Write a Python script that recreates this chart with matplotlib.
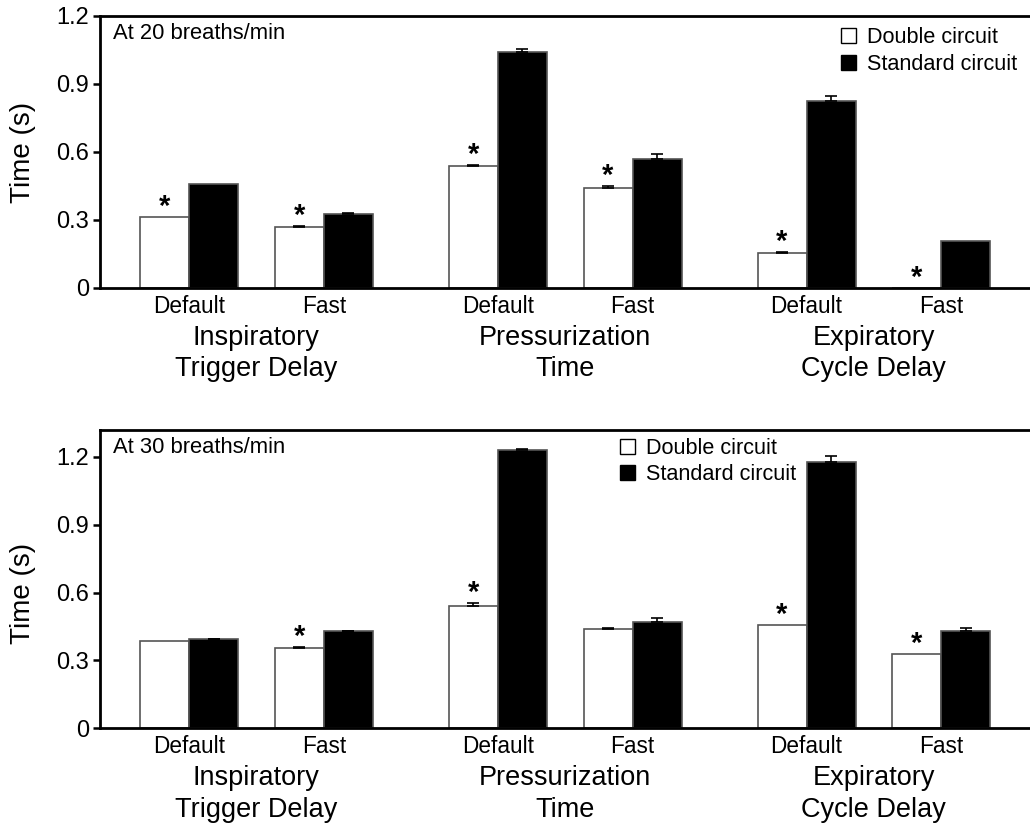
import numpy as np
import matplotlib
matplotlib.use('Agg')
import matplotlib.pyplot as plt
from matplotlib.patches import Patch

plt.rcParams['font.family'] = ['Liberation Sans', 'DejaVu Sans']

settings = ['Default', 'Fast']
groups = ['Inspiratory\nTrigger Delay', 'Pressurization\nTime', 'Expiratory\nCycle Delay']

# 20 breaths/min
double_20 = [0.314, 0.269, 0.538, 0.441, 0.153, 0.0]
double_20_err = [0, 0.003, 0.003, 0.009, 0.005, 0]
standard_20 = [0.458, 0.327, 1.040, 0.569, 0.825, 0.206]
standard_20_err = [0, 0.003, 0.013, 0.022, 0.024, 0]
star_20 = [True, True, True, True, True, True]

# 30 breaths/min
double_30 = [0.387, 0.355, 0.540, 0.438, 0.458, 0.328]
double_30_err = [0, 0.006, 0.012, 0.004, 0, 0]
standard_30 = [0.394, 0.429, 1.228, 0.471, 1.177, 0.429]
standard_30_err = [0.002, 0.003, 0.004, 0.016, 0.027, 0.014]
star_30 = [False, True, True, False, True, True]

yticks = [0, 0.3, 0.6, 0.9, 1.2]
yticklabels = ['0', '0.3', '0.6', '0.9', '1.2']

# pair centres: groups 6.3 apart, settings 2.75 apart
pos = np.array([g * 6.3 + s * 2.75 for g in range(3) for s in range(2)])
w = 1.0


def panel(ax, dbl, dbl_err, std, std_err, stars, ymax, title, leg_xy):
    ax.bar(pos - w / 2, dbl, w, color='white', edgecolor='#555555', linewidth=1.2, zorder=2)
    ax.bar(pos + w / 2, std, w, color='black', edgecolor='#555555', linewidth=1.2, zorder=2)
    for i in range(len(pos)):
        if dbl_err[i] > 0:
            ax.errorbar(pos[i] - w / 2, dbl[i], yerr=[[0], [dbl_err[i]]], color='black',
                        capsize=4.5, elinewidth=1.2, capthick=1.2, zorder=3)
        if std_err[i] > 0:
            ax.errorbar(pos[i] + w / 2, std[i], yerr=[[0], [std_err[i]]], color='black',
                        capsize=4.5, elinewidth=1.2, capthick=1.2, zorder=3)
        if stars[i]:
            ax.annotate('*', xy=(pos[i] - w / 2, dbl[i] + dbl_err[i]), xytext=(0, 1.5),
                        textcoords='offset points', ha='center', va='baseline',
                        fontsize=21, fontweight='bold')

    ax.set_xlim(-1.816, 17.16)
    ax.set_ylim(0, ymax)
    ax.set_yticks(yticks)
    ax.set_yticklabels(yticklabels)
    ax.set_xticks(pos)
    ax.set_xticklabels(settings * 3)
    ax.tick_params(axis='x', length=0, pad=5, labelsize=16.3)
    ax.tick_params(axis='y', length=5, width=1.8, pad=3, labelsize=17, direction='out')
    ax.spines['right'].set_visible(False)
    for s in ['left', 'top', 'bottom']:
        ax.spines[s].set_linewidth(2)

    for g in range(3):
        ax.annotate(groups[g], xy=(g * 6.3 + 1.375, 0), xycoords=('data', 'axes fraction'),
                    xytext=(0, -26.5), textcoords='offset points', ha='center', va='top',
                    fontsize=19.5, linespacing=1.28)

    ax.annotate(title, xy=(0, 1), xycoords='axes fraction', xytext=(9.5, -5),
                textcoords='offset points', ha='left', va='top', fontsize=15.8)

    handles = [Patch(facecolor='white', edgecolor='black', linewidth=1),
               Patch(facecolor='black', edgecolor='black', linewidth=1)]
    ax.legend(handles, ['Double circuit', 'Standard circuit'], loc='upper left',
              bbox_to_anchor=leg_xy, frameon=False, fontsize=15.6, handlelength=0.7,
              handleheight=0.7, handletextpad=0.5, labelspacing=0.25, borderpad=0,
              borderaxespad=0)


fig = plt.figure(figsize=(10.3, 8.24), dpi=100)
ax1 = fig.add_axes([100 / 1030, (824 - 288) / 824, 930 / 1030, 272 / 824])
ax2 = fig.add_axes([100 / 1030, (824 - 728.3) / 824, 930 / 1030, 298.3 / 824])

panel(ax1, double_20, double_20_err, standard_20, standard_20_err, star_20, 1.2,
      'At 20 breaths/min', (0.797, 0.958))
panel(ax2, double_30, double_30_err, standard_30, standard_30_err, star_30, 1.318,
      'At 30 breaths/min', (0.559, 0.974))

fig.text(23 / 1030, 1 - 152 / 824, 'Time (s)', rotation=90, ha='center', va='center', fontsize=20)
fig.text(23 / 1030, 1 - 593 / 824, 'Time (s)', rotation=90, ha='center', va='center', fontsize=20)

fig.savefig('out.png', dpi=100)
